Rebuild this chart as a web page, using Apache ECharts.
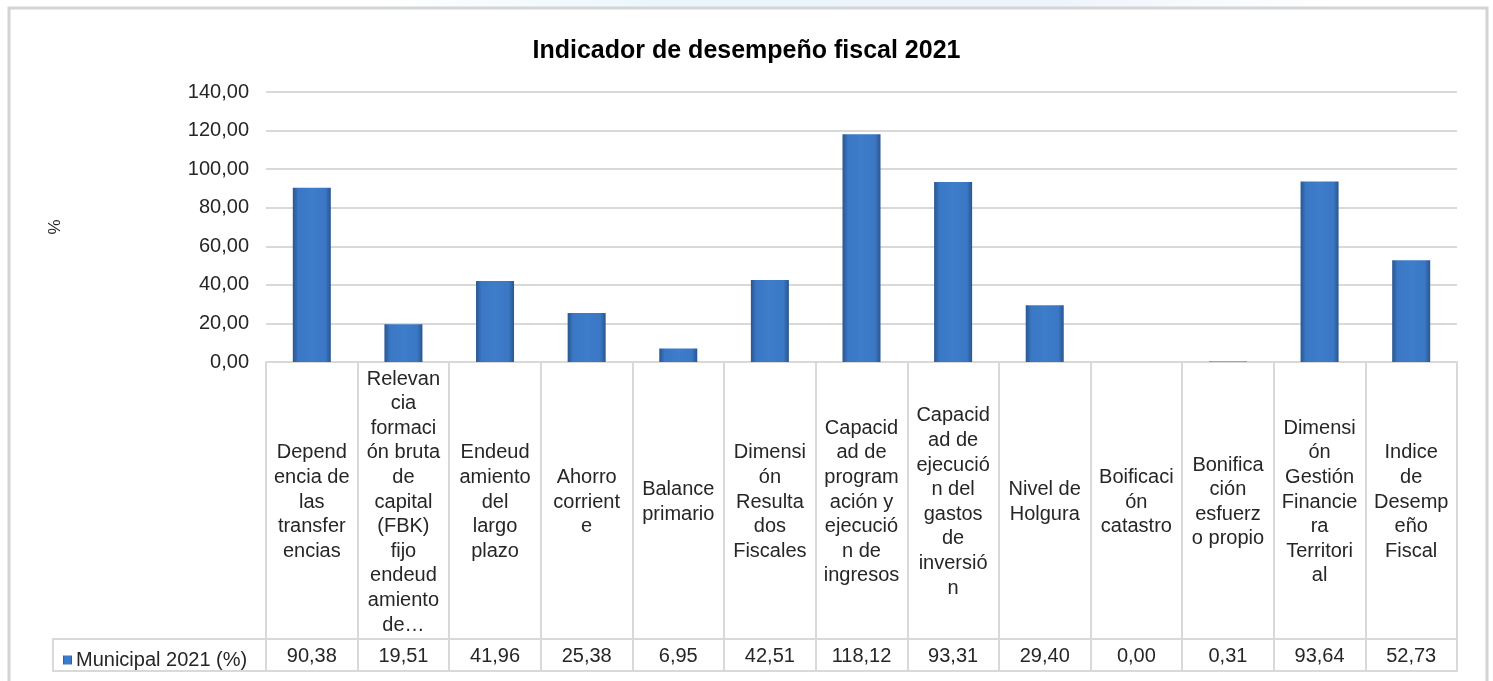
<!DOCTYPE html>
<html>
<head>
<meta charset="utf-8">
<title>Indicador de desempeño fiscal 2021</title>
<script src="https://cdn.jsdelivr.net/npm/echarts@6/dist/echarts.min.js"></script>
<style>
  html, body { margin: 0; padding: 0; background: #fff; }
  #chart { width: 1493px; height: 681px; }
</style>
</head>
<body>
<div id="chart"></div>
<script>
// categories as they wrap in the data table
const categories = [
  'Depend\nencia de\nlas\ntransfer\nencias',
  'Relevan\ncia\nformaci\nón bruta\nde\ncapital\n(FBK)\nfijo\nendeud\namiento\nde…',
  'Endeud\namiento\ndel\nlargo\nplazo',
  'Ahorro\ncorrient\ne',
  'Balance\nprimario',
  'Dimensi\nón\nResulta\ndos\nFiscales',
  'Capacid\nad de\nprogram\nación y\nejecució\nn de\ningresos',
  'Capacid\nad de\nejecució\nn del\ngastos\nde\ninversió\nn',
  'Nivel de\nHolgura',
  'Boificaci\nón\ncatastro',
  'Bonifica\nción\nesfuerz\no propio',
  'Dimensi\nón\nGestión\nFinancie\nra\nTerritori\nal',
  'Indice\nde\nDesemp\neño\nFiscal'
]
const seriesName = 'Municipal 2021 (%)'
const values = [90.38, 19.51, 41.96, 25.38, 6.95, 42.51, 118.12, 93.31, 29.40, 0.00, 0.31, 93.64, 52.73]
const yTicks = { min: 0, max: 140, interval: 20 }

const fmt = v => Number(v).toFixed(2).replace('.', ',')
const font = 'Arial, "Liberation Sans", sans-serif'
const lineCol = '#d9d9d9'
const textCol = '#262626'

// bevel-ish look: dark edges, lighter middle
const barColor = new echarts.graphic.LinearGradient(0, 0, 1, 0, [
  { offset: 0, color: '#29568f' },
  { offset: 0.14, color: '#3a77c4' },
  { offset: 0.5, color: '#3e7dcb' },
  { offset: 0.86, color: '#3a77c4' },
  { offset: 1, color: '#29568f' }
])

const chart = echarts.init(document.getElementById('chart'))
chart.setOption({
  animation: false,
  textStyle: { fontFamily: font },
  title: {
    text: 'Indicador de desempeño fiscal 2021',
    left: 'center',
    top: 34,
    textStyle: { fontFamily: font, fontSize: 25, fontWeight: 'bold', color: '#000' }
  },
  legend: {
    data: [seriesName],
    left: 58,
    top: 645,
    icon: 'rect',
    itemWidth: 9,
    itemHeight: 9,
    itemGap: 0,
    textStyle: { fontFamily: font, fontSize: 20, color: textCol, padding: [0, 0, 0, -1] }
  },
  grid: { left: 266, right: 36, top: 92, bottom: 319 },
  xAxis: [
    {
      type: 'category',
      data: categories,
      axisLine: { show: true, lineStyle: { color: lineCol, width: 2 } },
      axisTick: { show: true, interval: 0, length: 309, lineStyle: { color: lineCol, width: 2 } },
      axisLabel: {
        interval: 0,
        margin: 140,
        verticalAlign: 'middle',
        fontSize: 20,
        lineHeight: 24.6,
        color: textCol,
        align: 'center'
      }
    },
    {
      type: 'category',
      data: values.map(fmt),
      position: 'bottom',
      offset: 277,
      axisLine: { show: true, lineStyle: { color: lineCol, width: 2 } },
      axisTick: { show: false },
      axisLabel: { interval: 0, margin: 17, verticalAlign: 'middle', fontSize: 20, color: textCol }
    },
    {
      type: 'category',
      data: categories,
      position: 'bottom',
      offset: 309,
      axisLine: { show: true, lineStyle: { color: lineCol, width: 2 } },
      axisTick: { show: false },
      axisLabel: { show: false }
    }
  ],
  yAxis: {
    type: 'value',
    min: yTicks.min,
    max: yTicks.max,
    interval: yTicks.interval,
    name: '%',
    nameLocation: 'middle',
    nameRotate: 90,
    nameGap: 202,
    nameTextStyle: { fontFamily: font, fontSize: 17, color: textCol },
    axisLine: { show: false },
    axisTick: { show: false },
    axisLabel: { formatter: fmt, fontSize: 20, color: textCol, margin: 17 },
    splitLine: { lineStyle: { color: lineCol, width: 2 } }
  },
  series: [
    {
      name: seriesName,
      type: 'bar',
      data: values,
      barWidth: 38,
      itemStyle: { color: barColor }
    }
  ],
  graphic: [
    {
      type: 'rect',
      shape: { x: 370, y: 0, width: 970, height: 7 },
      style: {
        fill: new echarts.graphic.LinearGradient(0, 0, 1, 0, [
          { offset: 0, color: '#ffffff' },
          { offset: 0.3, color: '#eaf6fc' },
          { offset: 0.7, color: '#eef4fc' },
          { offset: 1, color: '#ffffff' }
        ])
      },
      silent: true
    },
    {
      type: 'rect',
      shape: { x: 53, y: 639, width: 213, height: 32 },
      style: { fill: 'none', stroke: lineCol, lineWidth: 2 },
      silent: true
    },
    {
      type: 'rect',
      shape: { x: 9, y: 8, width: 1478, height: 700 },
      style: { fill: 'none', stroke: '#d4d4d4', lineWidth: 3 },
      silent: true
    }
  ]
})
</script>
</body>
</html>
